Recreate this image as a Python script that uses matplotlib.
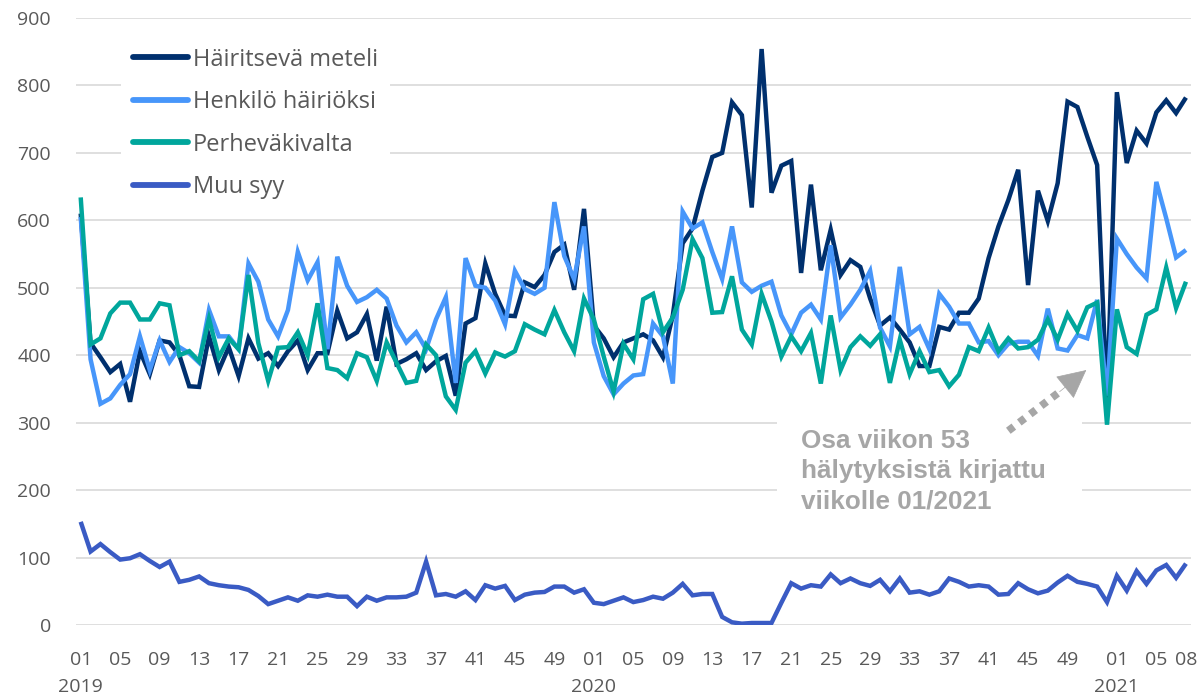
import matplotlib
matplotlib.use("Agg")
import matplotlib.pyplot as plt
from matplotlib.patches import Rectangle
from matplotlib.transforms import blended_transform_factory

# ---- data: weekly values, 2019 w01 .. 2021 w08 ----
years = [2019, 2020, 2021]
weeks_per_year = [52, 53, 8]

hairitseva_meteli = [
    # 2019
    610, 418, 397, 375, 387, 331, 406, 372, 422, 419, 400, 354, 353, 428, 378, 412,
    369, 425, 395, 403, 384, 406, 422, 378, 403, 403, 466, 425, 434, 461, 392, 472,
    387, 394, 403, 378, 391, 399, 340, 447, 455, 536, 491, 459, 458, 508, 501, 519,
    553, 564, 497, 617,
    # 2020
    444, 425, 397, 419, 425, 431, 422, 397, 459, 566, 588, 644, 694, 700, 775, 756,
    619, 854, 641, 681, 688, 522, 653, 526, 586, 519, 541, 531, 484, 444, 456, 438,
    419, 384, 384, 442, 438, 463, 463, 484, 544, 591, 630, 675, 504, 644, 599, 655,
    776, 768, 724, 682, 330,
    # 2021
    790, 685, 733, 714, 760, 778, 759, 782,
]
henkilo_hairioksi = [
    605, 394, 328, 336, 356, 372, 428, 378, 422, 390, 412, 403, 389, 467, 428, 428,
    409, 536, 509, 453, 428, 467, 553, 511, 538, 409, 546, 503, 479, 486, 497, 484,
    444, 419, 434, 409, 453, 486, 359, 544, 503, 500, 481, 446, 525, 498, 491, 500,
    627, 547, 513, 591,
    419, 369, 342, 358, 370, 372, 447, 428, 358, 613, 588, 597, 553, 513, 591, 508,
    494, 503, 509, 459, 431, 463, 475, 453, 563, 456, 475, 497, 525, 441, 413, 531,
    431, 442, 409, 491, 472, 447, 447, 419, 421, 400, 417, 420, 420, 399, 469, 410,
    407, 430, 425, 482, 340,
    573, 550, 530, 514, 657, 603, 545, 556,
]
perhevakivalta = [
    634, 416, 425, 462, 478, 478, 453, 453, 477, 474, 400, 406, 391, 454, 397, 425,
    409, 519, 418, 362, 411, 412, 434, 400, 477, 381, 378, 366, 403, 397, 362, 419,
    389, 359, 362, 416, 400, 339, 319, 389, 406, 373, 404, 398, 406, 446, 438, 431,
    467, 434, 406, 484,
    453, 398, 346, 417, 394, 483, 491, 434, 456, 497, 572, 544, 463, 464, 517, 438,
    416, 491, 450, 398, 428, 406, 433, 358, 459, 378, 412, 428, 414, 431, 359, 423,
    372, 406, 375, 378, 354, 371, 412, 406, 441, 406, 425, 410, 412, 423, 453, 423,
    461, 436, 471, 478, 297,
    468, 412, 402, 460, 468, 530, 470, 509,
]
muu_syy = [
    153, 109, 120, 108, 97, 99, 105, 95, 86, 94, 64, 67, 72, 62, 59, 57,
    56, 52, 43, 31, 36, 41, 36, 44, 42, 45, 42, 42, 28, 42, 36, 41,
    41, 42, 48, 94, 44, 46, 42, 50, 37, 59, 54, 58, 37, 45, 48, 49,
    57, 57, 48, 53,
    33, 31, 36, 41, 34, 37, 42, 39, 48, 61, 44, 46, 46, 12, 4, 2,
    3, 3, 3, 33, 62, 54, 59, 57, 75, 62, 69, 62, 58, 67, 50, 69,
    48, 50, 45, 50, 69, 64, 57, 59, 57, 45, 46, 62, 53, 47, 51, 63,
    73, 64, 61, 57, 34,
    73, 51, 80, 61, 81, 89, 70, 91,
]

series = [
    ("Häiritsevä meteli", hairitseva_meteli, "#00306E"),
    ("Henkilö häiriöksi", henkilo_hairioksi, "#4796FA"),
    ("Perheväkivalta", perhevakivalta, "#00A69C"),
    ("Muu syy", muu_syy, "#3A5BC4"),
]

# week labels (every 4th week + last week of data)
labels = []
year_starts = []
for y, n in zip(years, weeks_per_year):
    year_starts.append(len(labels))
    for w in range(1, n + 1):
        labels.append(w)
x = list(range(len(labels)))

tick_pos, tick_lab = [], []
for i, w in enumerate(labels):
    if (w - 1) % 4 == 0 and w <= 49 or (i == len(labels) - 1):
        tick_pos.append(i)
        tick_lab.append(f"{w:02d}")

# ---- plot ----
plt.rcParams['font.family'] = ['Open Sans', 'DejaVu Sans']
grey = "#595959"
note_grey = "#A6A6A6"

fig = plt.figure(figsize=(11.97, 6.95), dpi=100)
ax = fig.add_axes([0.0633, 0.1007, 0.9316, 0.8734])

for z, (name, vals, col) in enumerate(series):
    ax.plot(x, vals, color=col, lw=3.2, label=name, zorder=3 + z,
            solid_joinstyle='miter', solid_capstyle='butt')

ax.set_xlim(-0.5, len(x) - 0.5)
ax.set_ylim(0, 900)
ax.set_yticks(range(0, 901, 100))
ax.yaxis.grid(True, color="#D9D9D9", lw=1.2, zorder=0)
ax.set_axisbelow(True)
for s in ax.spines.values():
    s.set_visible(False)
ax.tick_params(axis='y', length=0, pad=18, labelsize=14, labelcolor=grey)
ax.set_xticks(tick_pos)
ax.set_xticklabels(tick_lab)
ax.tick_params(axis='x', length=0, pad=19, labelsize=14, labelcolor=grey)

trans = blended_transform_factory(ax.transData, ax.transAxes)
for y, pos in zip(years, year_starts):
    ax.text(pos, -0.088, str(y), transform=trans, ha='center', va='top',
            fontsize=14, color=grey)

leg = ax.legend(loc='upper left', bbox_to_anchor=(0.03, 0.99), frameon=True,
                fontsize=17, handlelength=2.35, handletextpad=0.2,
                labelspacing=0.78, borderpad=0.5)
leg.get_frame().set_facecolor('white')
leg.get_frame().set_edgecolor('none')
leg.get_frame().set_alpha(1)
leg.set_zorder(10)
for t in leg.get_texts():
    t.set_color(grey)
for h in leg.get_lines():
    h.set_linewidth(4.2)
    h.set_solid_capstyle('round')

# white text box behind the note
ax.add_patch(Rectangle((70.6, 150), 30.9, 180, facecolor='white',
                       edgecolor='none', zorder=1))
ax.text(73, 291, "Osa viikon 53\nhälytyksistä kirjattu\nviikolle 01/2021",
        fontsize=18.8, fontweight='bold', color=note_grey, family='Liberation Sans',
        ha='left', va='top', linespacing=1.33, zorder=9)

# dotted arrow: square-dot shaft + solid head
ax.plot([94, 99.4], [288, 348], color=note_grey, lw=5.5,
        linestyle=(0, (0.9, 0.9)), dash_capstyle='butt', zorder=9)
ax.annotate("", xy=(101.9, 378), xytext=(99.2, 346),
            arrowprops=dict(arrowstyle='-|>,head_length=1.9,head_width=0.95',
                            color=note_grey, lw=0.5, shrinkA=0, shrinkB=0),
            zorder=9)

fig.savefig("out.png", dpi=100)
